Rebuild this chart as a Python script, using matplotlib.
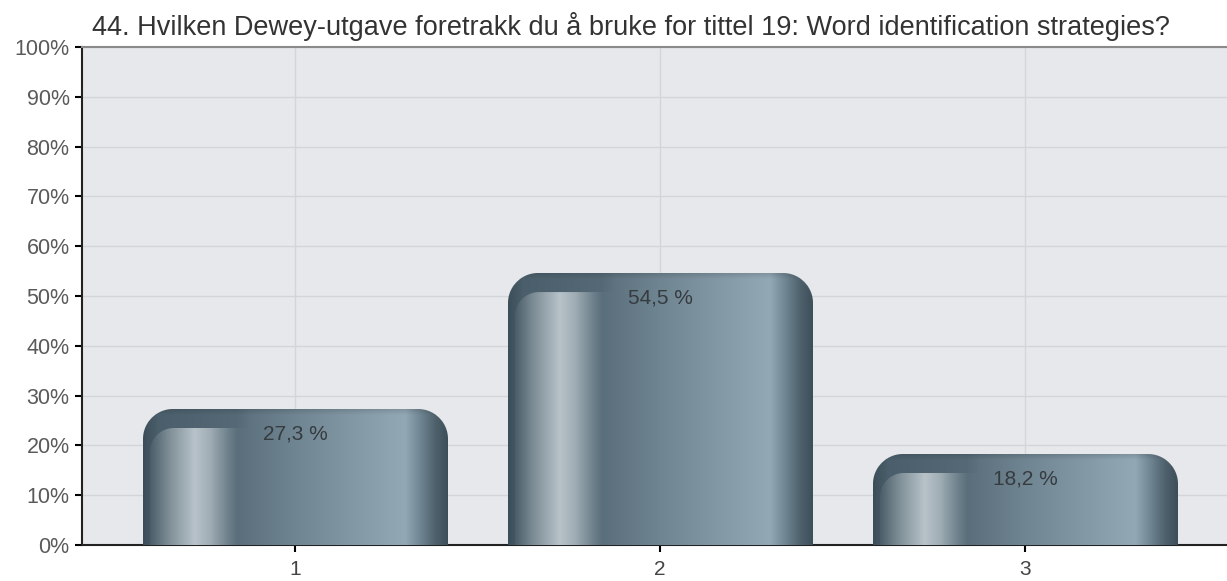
import matplotlib as mpl
mpl.use("Agg")
import matplotlib.pyplot as plt
import numpy as np
from matplotlib.colors import to_rgb

title = "44. Hvilken Dewey-utgave foretrakk du å bruke for tittel 19: Word identification strategies?"
categories = ["1", "2", "3"]
values = [27.3, 54.5, 18.2]
value_labels = ["27,3 %", "54,5 %", "18,2 %"]
y_ticks = [0, 10, 20, 30, 40, 50, 60, 70, 80, 90, 100]

mpl.rcParams["font.family"] = ["Liberation Sans", "DejaVu Sans"]
mpl.rcParams["font.size"] = 15

# horizontal shading of a bar (fraction of width, colour)
stops = [
    (0.00, "#3b4d58"), (0.02, "#475a65"), (0.08, "#7a8a93"), (0.17, "#b8c3c9"),
    (0.22, "#a0adb4"), (0.28, "#6d808b"), (0.31, "#5a6f7b"), (0.50, "#6f8591"),
    (0.80, "#8da3b0"), (0.86, "#92a8b5"), (0.91, "#6f8592"), (0.96, "#4d606b"),
    (1.00, "#3d4f59"),
]
band_stops = [(0.0, "#3b4d58"), (0.05, "#4a5f6b"), (0.31, "#556a76")]


def shade(t, st):
    pos = [s[0] for s in st]
    cols = np.array([to_rgb(s[1]) for s in st])
    return np.stack([np.interp(t, pos, cols[:, k]) for k in range(3)], axis=-1)


def corner_alpha(xx, yy, cx, cy, r, side):
    # alpha for a rounded corner centred on (cx, cy)
    inside = (xx < cx) if side == "left" else (xx > cx)
    inside &= yy < cy
    d = np.hypot(xx - cx, yy - cy)
    a = np.clip(r - d + 0.5, 0, 1)
    return np.where(inside, a, 1.0)


def bar_image(w_px, h_px):
    W, H = max(int(round(w_px)), 2), max(int(round(h_px)), 2)
    xx, yy = np.meshgrid(np.arange(W) + 0.5, np.arange(H) + 0.5)  # yy from top
    t = xx / W
    rgb = shade(t, stops)
    # darker band at the top-left above the inset panel
    p_left, p_top, p_r = 7, 19, 24
    band = shade(t, band_stops)
    in_cols = t <= 0.31
    pa = corner_alpha(xx, yy, p_left + p_r, p_top + p_r, p_r, "left")
    pa = np.where(yy >= p_top, pa, 0.0)
    pa = np.where(xx < p_left, 0.0, pa)
    panel_mix = np.where(in_cols, pa, 1.0)
    # soft fade of the band into the right part of the bar
    fade = np.clip((t - 0.30) / 0.05, 0, 1)
    panel_mix = np.where(in_cols, panel_mix, np.maximum(fade, yy >= p_top))
    panel_mix = np.where(~in_cols & (yy < p_top), fade, panel_mix)[..., None]
    rgb = band * (1 - panel_mix) + rgb * panel_mix
    # slightly darker rim along the top
    rim = 1 - 0.12 * np.clip(1 - yy / 6, 0, 1)
    rgb = rgb * rim[..., None]
    r = 30
    alpha = corner_alpha(xx, yy, r, r, r, "left") * corner_alpha(xx, yy, W - r, r, r, "right")
    return np.dstack([rgb, alpha])


fig = plt.figure(figsize=(12.27, 5.81), dpi=100)
ax = fig.add_axes([82 / 1227, 36 / 581, 1 - 82 / 1227, (545 - 47) / 581])
ax.set_facecolor("#e6e8eb")
x = np.arange(1, len(categories) + 1)
ax.set_xlim(0.416, 3.553)
ax.set_ylim(0, 100)

bars = ax.bar(x, values, 0.835, color="none", edgecolor="none", zorder=2)
fig.canvas.draw()
for b, lab in zip(bars, value_labels):
    x0, w, h = b.get_x(), b.get_width(), b.get_height()
    p0 = ax.transData.transform((x0, 0))
    p1 = ax.transData.transform((x0 + w, h))
    img = bar_image(p1[0] - p0[0], p1[1] - p0[1])
    ax.imshow(img, extent=(x0, x0 + w, 0, h), aspect="auto", interpolation="bilinear",
              zorder=3)
    ax.text(x0 + w / 2, h - 5, lab, ha="center", va="center", color="#363b40",
            fontsize=15, zorder=4)
ax.set_xlim(0.416, 3.553)
ax.set_ylim(0, 100)

ax.set_yticks(y_ticks)
ax.set_yticklabels([f"{v}%" for v in y_ticks], color="#5a5a5a", fontsize=15.5)
ax.set_xticks(x)
ax.set_xticklabels(categories, color="#444444")
ax.grid(True, color="#d3d5d8", linewidth=1, zorder=0)
ax.set_axisbelow(True)
ax.tick_params(axis="y", length=5, width=1.5, pad=4)
ax.tick_params(axis="x", length=5, width=1.5, pad=6)
for s in ("left", "bottom"):
    ax.spines[s].set_color("#222222")
    ax.spines[s].set_linewidth(1.5)
ax.spines["top"].set_color("#8a8a8a")
ax.spines["top"].set_linewidth(1.5)
ax.spines["right"].set_visible(False)

fig.text(92 / 1227, 1 - 35 / 581, title, ha="left", va="baseline", color="#333333",
         fontsize=19.5)

fig.savefig("out.png", dpi=100)
